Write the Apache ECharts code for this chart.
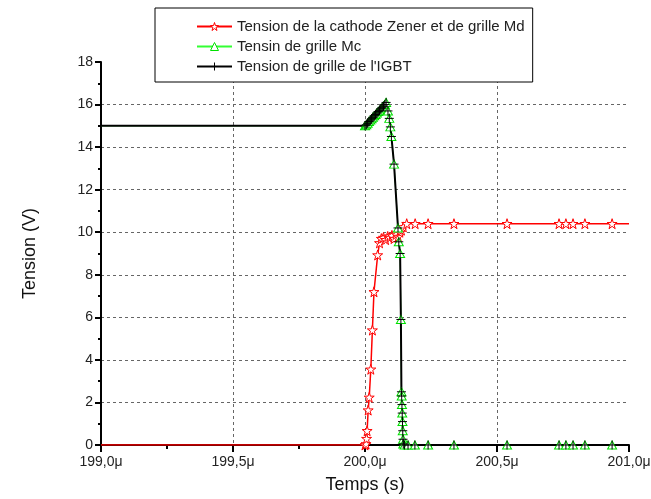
<!DOCTYPE html>
<html lang="fr">
<head>
<meta charset="UTF-8">
<title>Tension</title>
<style>
  html, body { margin: 0; padding: 0; background: #fff; }
  #main { width: 651px; height: 499px; }
</style>
</head>
<body>
<div id="main"></div>
<script src="https://cdn.jsdelivr.net/npm/echarts@6/dist/echarts.min.js"></script>
<script>
// temps en microsecondes
var timeZener = [199.0, 200.0, 200.004, 200.006, 200.008, 200.012, 200.016, 200.022, 200.028, 200.034,
  200.048, 200.055, 200.062, 200.07, 200.078, 200.086, 200.094, 200.102, 200.11, 200.118, 200.126,
  200.132, 200.138, 200.145, 200.158, 200.19, 200.239, 200.337, 200.538, 200.735, 200.761, 200.788,
  200.833, 200.936, 201.0];
var vZener = [0, 0, 0.05, 0.3, 0.67, 1.64, 2.24, 3.56, 5.4, 7.2,
  8.93, 9.5, 9.7, 9.75, 9.65, 9.8, 9.75, 9.85, 9.7, 9.9, 9.8,
  10.0, 10.1, 10.25, 10.4, 10.4, 10.4, 10.4, 10.4, 10.4, 10.4, 10.4,
  10.4, 10.4, 10.4];

var timeGate = [199.0, 200.0, 200.005, 200.01, 200.015, 200.02, 200.025, 200.03, 200.035, 200.04,
  200.045, 200.05, 200.055, 200.06, 200.065, 200.07, 200.075, 200.08, 200.087, 200.092,
  200.096, 200.1, 200.11, 200.125, 200.128, 200.133, 200.136, 200.138, 200.139, 200.14,
  200.141, 200.142, 200.143, 200.144, 200.145, 200.15, 200.163, 200.189, 200.239, 200.337,
  200.538, 200.735, 200.761, 200.788, 200.833, 200.936, 201.0];
var vMc = [15, 15, 15.05, 15.12, 15.2, 15.27, 15.33, 15.4, 15.47, 15.53,
  15.6, 15.67, 15.73, 15.8, 15.87, 15.93, 16.0, 16.1, 15.7, 15.35,
  14.95, 14.5, 13.2, 10.2, 9.55, 9.0, 5.9, 2.5, 2.3, 1.9,
  1.5, 1.1, 0.67, 0.27, 0.05, 0, 0, 0, 0, 0,
  0, 0, 0, 0, 0, 0, 0];
var vIGBT = [15, 15, 15.05, 15.12, 15.2, 15.27, 15.33, 15.4, 15.47, 15.53,
  15.6, 15.67, 15.73, 15.8, 15.87, 15.93, 16.0, 16.1, 15.7, 15.35,
  14.95, 14.5, 13.2, 10.2, 9.55, 9.0, 5.9, 2.5, 2.3, 1.9,
  1.5, 1.1, 0.67, 0.27, 0.05, 0, 0, 0, 0, 0,
  0, 0, 0, 0, 0, 0, 0];

var seriesNames = ['Tension de la cathode Zener et de grille Md', 'Tensin de grille Mc', 'Tension de grille de l\'IGBT'];
var seriesColors = ['#ff0000', '#00e000', '#000000'];

var starPath = 'path://M50,0L61.2,34.5L97.6,34.5L68.2,55.9L79.4,90.5L50,69.1L20.6,90.5L31.8,55.9L2.4,34.5L38.8,34.5Z';
var plusPath = 'path://M5,0L5,10M0,5L10,5';
var font = 'Liberation Sans, Arial, sans-serif';

// pas de symbole aux extremites
function pts(t, v) {
  return t.map(function (x, i) {
    var p = { value: [x, v[i]] };
    if (i === 0 || i === t.length - 1) p.symbol = 'none';
    return p;
  });
}

var myChart = echarts.init(document.getElementById('main'));
var option = {
  animation: false,
  backgroundColor: '#fff',
  textStyle: { fontFamily: font },
  grid: { left: 101, right: 22, top: 62, bottom: 54, containLabel: false, outerBoundsMode: 'none' },
  legend: {
    orient: 'vertical',
    left: 155,
    top: 8,
    padding: [11, 8, 8, 41],
    itemGap: 5,
    itemWidth: 35,
    itemHeight: 10,
    borderColor: '#000',
    borderWidth: 1,
    backgroundColor: '#fff',
    textStyle: { fontSize: 15, color: '#222', fontFamily: font },
    data: seriesNames.map(function (n, i) {
      return {
        name: n,
        itemStyle: { color: i === 2 ? '#000' : '#fff', borderColor: seriesColors[i], borderWidth: 1 }
      };
    })
  },
  xAxis: {
    type: 'value',
    min: 199, max: 201, interval: 0.5,
    name: 'Temps (s)',
    nameLocation: 'middle',
    nameGap: 31,
    nameTextStyle: { fontSize: 18, color: '#111', fontFamily: font },
    axisLine: { onZero: false, lineStyle: { color: '#000', width: 2 } },
    axisTick: { length: 7, lineStyle: { color: '#000', width: 2 } },
    minorTick: { show: true, splitNumber: 2, length: 4, lineStyle: { color: '#000', width: 2 } },
    axisLabel: {
      fontSize: 14, color: '#222', margin: 10,
      formatter: function (v) { return v.toFixed(1).replace('.', ',') + 'μ'; }
    },
    splitLine: { show: true, showMinLine: false, showMaxLine: false, lineStyle: { color: '#666', type: [3, 3], width: 1 } }
  },
  yAxis: {
    type: 'value',
    min: 0, max: 18, interval: 2,
    name: 'Tension (V)',
    nameLocation: 'middle',
    nameGap: 62,
    nameTextStyle: { fontSize: 18, color: '#111', fontFamily: font },
    axisLine: { show: true, lineStyle: { color: '#000', width: 2 } },
    axisTick: { show: true, length: 6, lineStyle: { color: '#000', width: 2 } },
    minorTick: { show: true, splitNumber: 2, length: 3, lineStyle: { color: '#000', width: 2 } },
    axisLabel: { fontSize: 14, color: '#222', margin: 8 },
    splitLine: { show: true, showMinLine: false, showMaxLine: false, lineStyle: { color: '#666', type: [3, 3], width: 1 } }
  },
  series: [
    {
      name: seriesNames[0],
      type: 'line',
      data: pts(timeZener, vZener),
      symbol: starPath,
      symbolSize: 10,
      lineStyle: { color: seriesColors[0], width: 1.5 },
      itemStyle: { color: '#fff', borderColor: seriesColors[0], borderWidth: 1 }
    },
    {
      name: seriesNames[1],
      type: 'line',
      data: pts(timeGate, vMc),
      symbol: 'triangle',
      symbolSize: [9, 8],
      lineStyle: { color: '#33ff33', width: 1 },
      itemStyle: { color: '#fff', borderColor: seriesColors[1], borderWidth: 1 }
    },
    {
      name: seriesNames[2],
      type: 'line',
      data: pts(timeGate, vIGBT),
      symbol: plusPath,
      symbolSize: 9,
      lineStyle: { color: seriesColors[2], width: 2 },
      itemStyle: { color: '#000', borderColor: seriesColors[2], borderWidth: 1 }
    }
  ]
};
myChart.setOption(option);
</script>
</body>
</html>
